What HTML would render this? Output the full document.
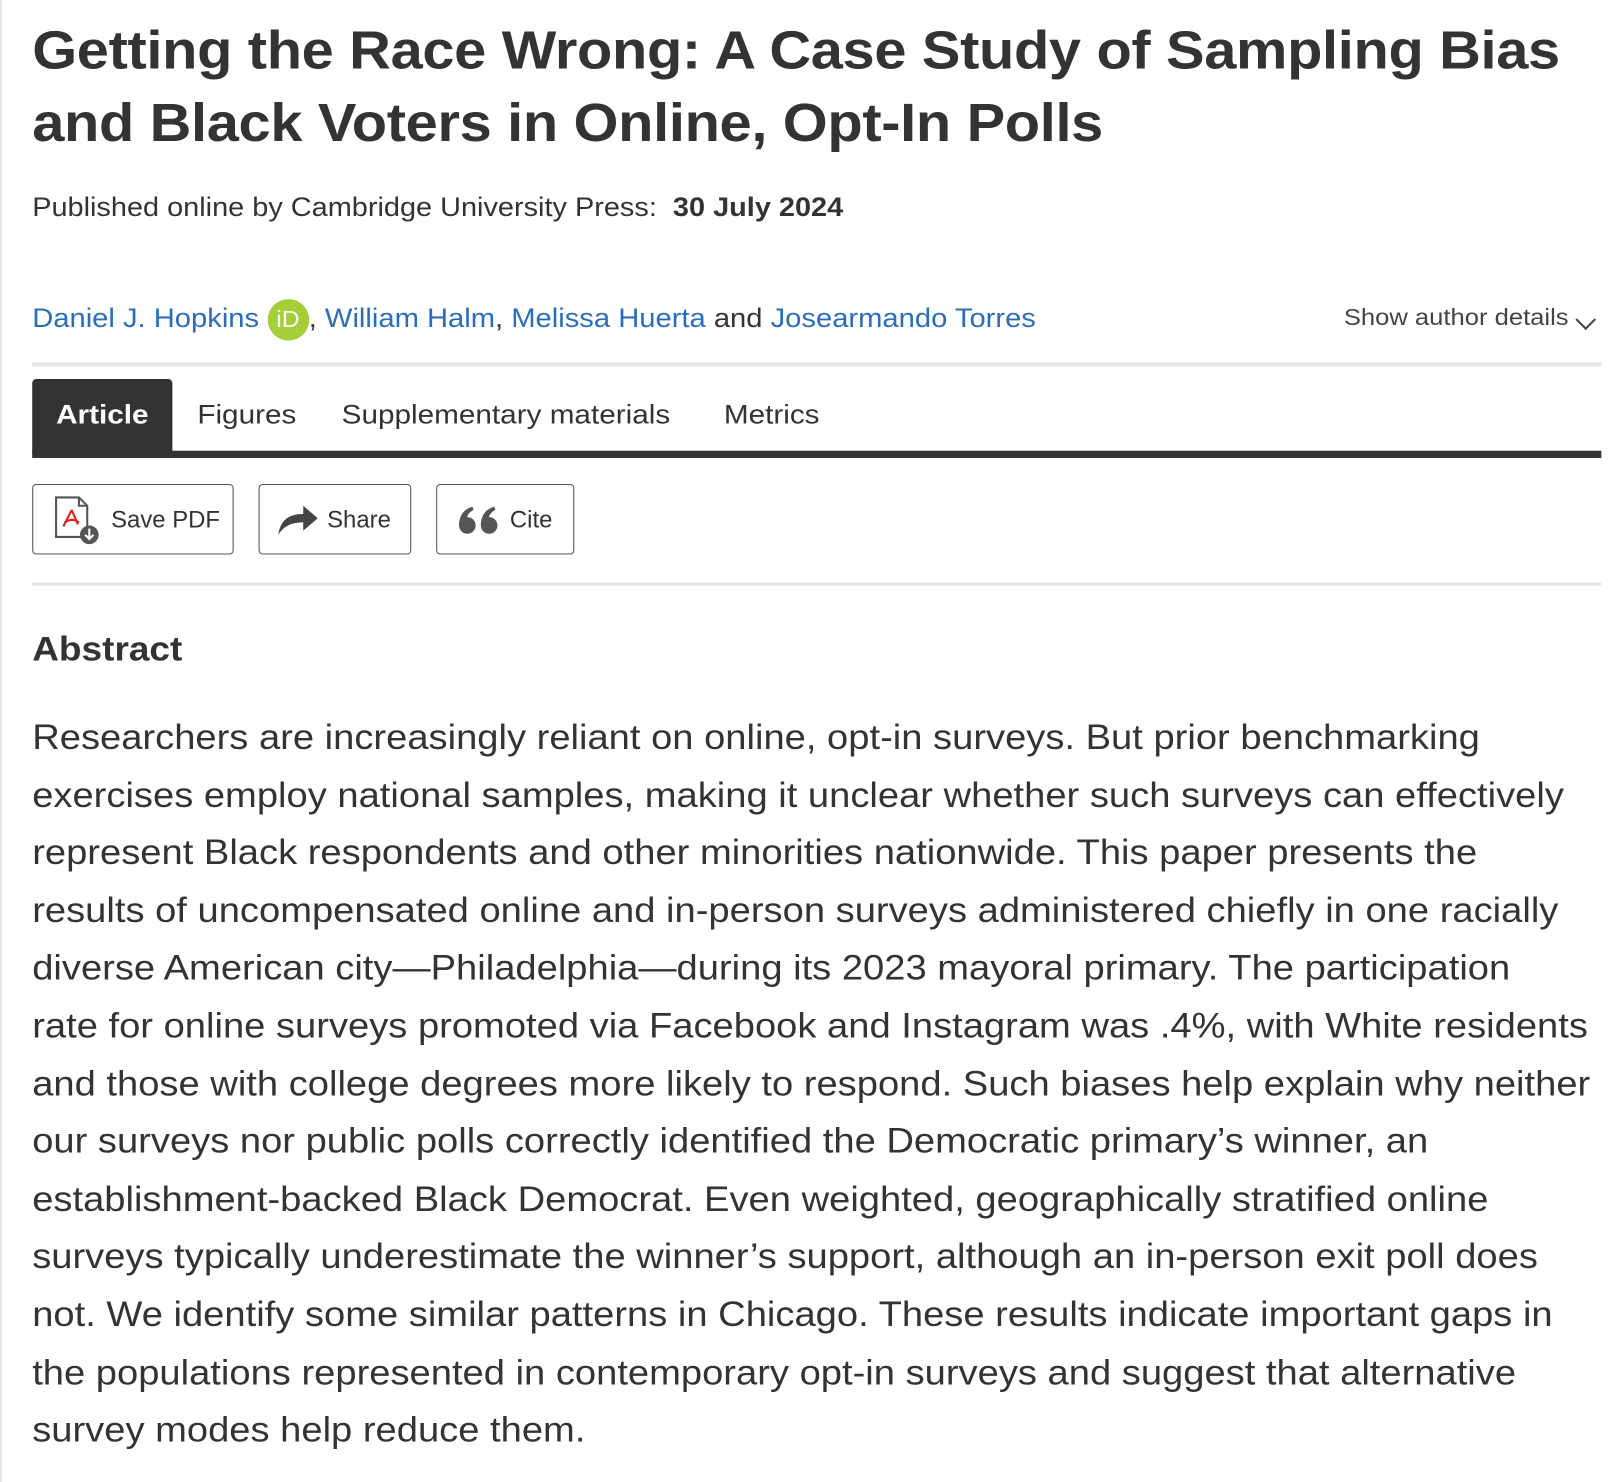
<!DOCTYPE html>
<html><head><meta charset="utf-8"><style>
html,body{margin:0;padding:0;background:#fff;}
body{width:1620px;height:1481px;overflow:hidden;position:relative;}
#w{position:absolute;left:0;top:0;width:1560px;height:1427px;transform:scale(1.0385);transform-origin:0 0;font-family:"Liberation Sans",sans-serif;color:#333;}
.a{position:absolute;white-space:nowrap;transform-origin:0 50%;}
#lb{position:absolute;left:0;top:0;width:2px;height:1427px;background:#e8e8e8;}
h1{margin:0;position:absolute;left:31px;top:14px;font-size:52px;line-height:70px;font-weight:bold;letter-spacing:-0.3px;color:#333;transform:scaleX(1.07);transform-origin:0 0;white-space:nowrap;}
.bl{color:#2a6ebb;}
.btn{position:absolute;top:466px;height:68px;border:1.5px solid #555;border-radius:4px;box-sizing:border-box;font-size:23px;line-height:66px;}
.body{transform:scaleX(1.08);transform-origin:0 0;}
.body div{height:55.6px;line-height:55.6px;}
.tab{font-size:26px;transform:scaleX(1.1);}
</style></head><body><div id="w">
<div id="lb"></div>
<h1>Getting the Race Wrong: A Case Study of Sampling Bias<br>and Black Voters in Online, Opt-In Polls</h1>
<div class="a" style="left:31px;top:184px;font-size:26px;transform:scaleX(1.07);">Published online by Cambridge University Press:&nbsp; <b>30 July 2024</b></div>
<div class="a" style="left:31px;top:288px;font-size:26px;transform:scaleX(1.08);"><span class="bl">Daniel J. Hopkins</span> <span style="display:inline-block;width:37px;height:40px;border-radius:50%;background:#a6ce39;color:#fff;font-size:22px;line-height:40px;text-align:center;vertical-align:middle;">iD</span>, <span class="bl">William Halm</span>, <span class="bl">Melissa Huerta</span> and <span class="bl">Josearmando Torres</span></div>
<div class="a" style="left:1294px;top:293px;font-size:22px;color:#444;transform:scaleX(1.12);">Show author details</div>
<span class="a" style="left:1522px;top:296px;width:12px;height:12px;border-right:2px solid #444;border-bottom:2px solid #444;transform:rotate(45deg);"></span>
<div class="a" style="left:31px;top:349px;width:1511px;height:4px;background:#e6e6e6;"></div>
<div class="a" style="left:31px;top:365px;width:135px;height:72px;background:#333;border-radius:4px 4px 0 0;"></div>
<div class="a" style="left:31px;top:434px;width:1511px;height:7px;background:#333;"></div>
<div class="a tab" style="left:54px;top:384px;font-weight:bold;color:#fff;">Article</div>
<div class="a tab" style="left:190px;top:384px;">Figures</div>
<div class="a tab" style="left:329px;top:384px;">Supplementary materials</div>
<div class="a tab" style="left:697px;top:384px;">Metrics</div>
<div class="btn" style="left:31px;width:194px;">
<svg style="position:absolute;left:20px;top:10px;" width="46" height="48" viewBox="0 0 46 48"><path d="M2 2h22l8 8v30H2z" fill="#fff" stroke="#555" stroke-width="2"/><path d="M24 2v8h8" fill="none" stroke="#555" stroke-width="2"/><path d="M17 14l-8 16M17 14l6 14M10 26c5-3 10-3 14 0" fill="none" stroke="#d22" stroke-width="2"/><circle cx="34" cy="38" r="9" fill="#555"/><path d="M34 32v10M30 38l4 4 4-4" fill="none" stroke="#fff" stroke-width="2"/></svg>
<span style="position:absolute;left:75px;">Save PDF</span></div>
<div class="btn" style="left:249px;width:147px;">
<svg style="position:absolute;left:18px;top:18px;" width="38" height="30" viewBox="0 0 38 30"><path d="M0 30C2 16 10 10 24 10V2l14 12-14 12v-8C12 18 5 22 0 30z" fill="#444"/></svg>
<span style="position:absolute;left:65px;">Share</span></div>
<div class="btn" style="left:420px;width:133px;">
<svg style="position:absolute;left:20px;top:20px;" width="40" height="28" viewBox="0 0 40 28"><circle cx="9" cy="19" r="8" fill="#555"/><path d="M1 19C1 9 6 3 14 1l1 3C9 7 8 12 9 14z" fill="#555"/><circle cx="30" cy="19" r="8" fill="#555"/><path d="M22 19C22 9 27 3 35 1l1 3C30 7 29 12 30 14z" fill="#555"/></svg>
<span style="position:absolute;left:70px;">Cite</span></div>
<div class="a" style="left:31px;top:561px;width:1511px;height:3px;background:#e6e6e6;"></div>
<div class="a" style="left:31px;top:606px;font-size:33px;font-weight:bold;transform:scaleX(1.08);">Abstract</div>
<div class="a body" style="left:31px;top:683px;font-size:34px;">
<div>Researchers are increasingly reliant on online, opt-in surveys. But prior benchmarking</div>
<div>exercises employ national samples, making it unclear whether such surveys can effectively</div>
<div>represent Black respondents and other minorities nationwide. This paper presents the</div>
<div>results of uncompensated online and in-person surveys administered chiefly in one racially</div>
<div>diverse American city—Philadelphia—during its 2023 mayoral primary. The participation</div>
<div>rate for online surveys promoted via Facebook and Instagram was .4%, with White residents</div>
<div>and those with college degrees more likely to respond. Such biases help explain why neither</div>
<div>our surveys nor public polls correctly identified the Democratic primary’s winner, an</div>
<div>establishment-backed Black Democrat. Even weighted, geographically stratified online</div>
<div>surveys typically underestimate the winner’s support, although an in-person exit poll does</div>
<div>not. We identify some similar patterns in Chicago. These results indicate important gaps in</div>
<div>the populations represented in contemporary opt-in surveys and suggest that alternative</div>
<div>survey modes help reduce them.</div>
</div>
</div></body></html>
